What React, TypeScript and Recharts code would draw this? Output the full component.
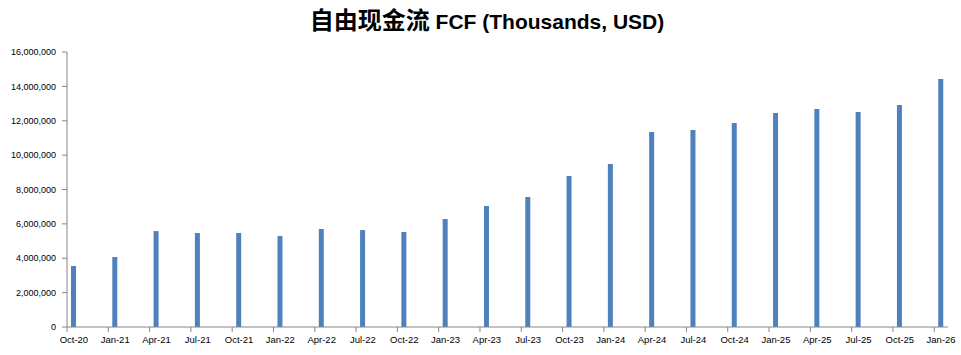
import React from "react";
import { BarChart, Bar, XAxis, YAxis } from "recharts";

const MONTHS = ["Jan", "Feb", "Mar", "Apr", "May", "Jun", "Jul", "Aug", "Sep", "Oct", "Nov", "Dec"];

// quarterly FCF (thousands USD)
const quarters = [
  "Oct-20", "Jan-21", "Apr-21", "Jul-21", "Oct-21", "Jan-22", "Apr-22", "Jul-22",
  "Oct-22", "Jan-23", "Apr-23", "Jul-23", "Oct-23", "Jan-24", "Apr-24", "Jul-24",
  "Oct-24", "Jan-25", "Apr-25", "Jul-25", "Oct-25", "Jan-26",
];
const fcf = [
  3550000, 4070000, 5580000, 5470000, 5470000, 5290000, 5700000, 5640000,
  5530000, 6280000, 7040000, 7560000, 8780000, 9480000, 11340000, 11460000,
  11870000, 12450000, 12680000, 12510000, 12910000, 14430000,
];
const yTicks = [0, 2000000, 4000000, 6000000, 8000000, 10000000, 12000000, 14000000, 16000000];

// monthly date axis Oct-20 .. Jan-26, only quarter months carry a value
const months: string[] = [];
for (let i = 0; i < 64; i++) {
  const m = (9 + i) % 12;
  const y = 20 + Math.floor((9 + i) / 12);
  months.push(`${MONTHS[m]}-${y}`);
}
const data = months.map((name) => {
  const q = quarters.indexOf(name);
  return { name, value: q >= 0 ? fcf[q] : null };
});

const AXIS = "#868686";
const FONT = "'Liberation Sans', Arial, sans-serif";

const XTick = (props: any) => {
  const { x, y, payload } = props;
  const half = payload.offset ?? 6.9;
  return (
    <g>
      <line x1={x - half} x2={x - half} y1={y - 9} y2={y - 4} stroke={AXIS} />
      <text x={x} y={y} dy="0.71em" textAnchor="middle" fontSize={9.5} fill="#000" fontFamily={FONT}>
        {payload.value}
      </text>
    </g>
  );
};

export default function App() {
  return (
    <div style={{ position: "absolute", left: 0, top: 0, width: 961, height: 355, background: "#fff" }}>
      <div
        style={{
          position: "absolute", left: 0, top: 4, width: 974, textAlign: "center",
          fontWeight: "bold", color: "#000", whiteSpace: "nowrap", lineHeight: "30px",
        }}
      >
        <span style={{ fontFamily: "'Noto Sans CJK SC'", fontSize: 24 }}>自由现金流</span>
        <span style={{ fontFamily: FONT, fontSize: 21 }}> FCF (Thousands, USD)</span>
      </div>
      <BarChart width={961} height={355} data={data} margin={{ top: 52, right: 13, bottom: 0, left: 0 }}>
        <XAxis
          dataKey="name"
          interval={2}
          height={28}
          tickSize={0}
          tickMargin={9}
          tickLine={false}
          axisLine={{ stroke: AXIS }}
          tick={<XTick />}
        />
        <YAxis
          width={67}
          domain={[0, 16000000]}
          ticks={yTicks}
          interval={0}
          tickSize={5}
          tickMargin={6}
          tickLine={{ stroke: AXIS }}
          axisLine={{ stroke: AXIS }}
          tick={{ fontSize: 9, fill: "#000", fontFamily: FONT }}
          tickFormatter={(v) => Number(v).toLocaleString("en-US")}
        />
        <Bar dataKey="value" fill="#4F81BD" barSize={5} isAnimationActive={false} />
      </BarChart>
    </div>
  );
}
